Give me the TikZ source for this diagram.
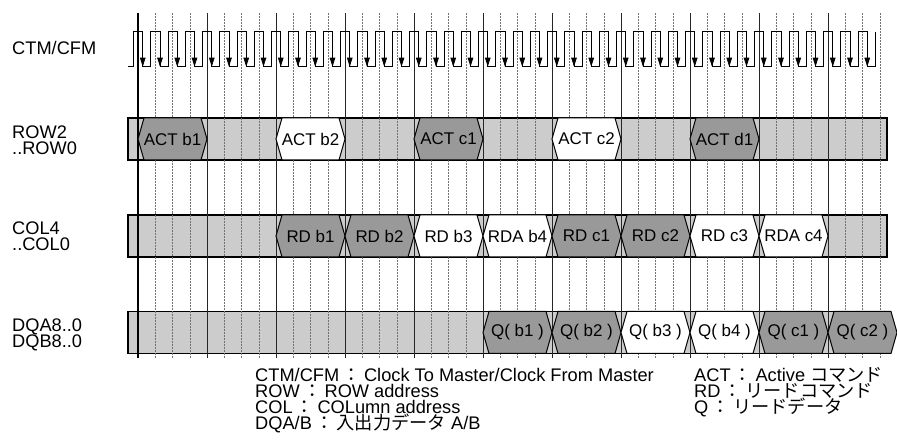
\documentclass[tikz,border=0pt]{standalone}
\usepackage{fontspec}
\setmainfont{Liberation Sans}
\newfontfamily\jpfont{Noto Sans CJK JP}
\usetikzlibrary{arrows.meta}
\definecolor{busgray}{gray}{0.8}
\definecolor{hexgray}{gray}{0.6}
\newcommand{\jcolon}{\hspace{3.3bp}{\jpfont ：}\hspace{3.3bp}}
\tikzstyle{bus} = [draw=black, fill=busgray, line width=1.2bp]
\tikzstyle{hexdark} = [draw=black, fill=hexgray, line width=1bp]
\tikzstyle{hexlight} = [draw=black, fill=white, line width=1bp]
\tikzstyle{major} = [draw=black!85, line width=0.8bp]
\tikzstyle{minor} = [draw=black!55, densely dotted, line width=0.5bp]
\tikzstyle{clkedge} = [line width=0.8bp, -{Triangle[width=5.5bp,length=9bp]}]
\tikzstyle{sig} = [anchor=base west, inner sep=0pt]
\tikzstyle{val} = [anchor=center, inner sep=0pt, font=\fontsize{17}{16}\selectfont]

\begin{document}
\begin{tikzpicture}[x=1bp, y=-1bp, font=\fontsize{18.3}{16}\selectfont]

			\useasboundingbox (0,0) rectangle (897,441);

			\draw[bus] (128,118) rectangle (887,160);
			\draw[bus] (128,215) rectangle (887,257);
			\draw[bus] (128,311.5) rectangle (887,353.5);

			\foreach \k in {0,...,43} {
				\pgfmathsetmacro\gx{138+17.25*\k}
				\pgfmathtruncatemacro\gm{mod(\k,4)}
				\ifnum\gm=0
					\draw[major] (\gx,13) -- (\gx,358);
				\else
					\draw[minor] (\gx,13) -- (\gx,358);
				\fi
			}
			\draw[line width=2.2bp] (138,13) -- (138,358);

			\foreach \s/\c/\t [count=\i] in {0/hexdark/ACT b1, 2/hexlight/ACT b2, 4/hexdark/ACT c1, 6/hexlight/ACT c2, 8/hexdark/ACT d1} {
				\draw[\c] ({138+69*\s},139) -- ++(6,-21) -- ++(57,0) -- ++(6,21) -- ++(-6,21) -- ++(-57,0) -- cycle;
				\node[val] (act\i) at ({172.5+69*\s},139) {\t};
			}

			\foreach \s/\c/\t [count=\i] in {2/hexdark/RD b1, 3/hexdark/RD b2, 4/hexlight/RD b3, 5/hexlight/RDA b4, 6/hexdark/RD c1, 7/hexdark/RD c2, 8/hexlight/RD c3, 9/hexlight/RDA c4} {
				\draw[\c] ({138+69*\s},236) -- ++(6,-21) -- ++(57,0) -- ++(6,21) -- ++(-6,21) -- ++(-57,0) -- cycle;
				\node[val] (rd\i) at ({172.5+69*\s},236) {\t};
			}

			\foreach \s/\c/\t [count=\i] in {5/hexdark/Q( b1 ), 6/hexdark/Q( b2 ), 7/hexlight/Q( b3 ), 8/hexlight/Q( b4 ), 9/hexdark/Q( c1 ), 10/hexdark/Q( c2 )} {
				\draw[\c] ({138+69*\s},332.5) -- ++(6,-21) -- ++(57,0) -- ++(6,21) -- ++(-6,21) -- ++(-57,0) -- cycle;
				\node[val] (q\i) at ({172.5+69*\s},332.5) {\t};
			}

			\draw[line width=0.8bp] (128,66.7) foreach \k in {0,...,42} { -- ({133.5+17.25*\k},66.7) -- ({133.5+17.25*\k},31.7) -- ({142.75+17.25*\k},31.7) -- ({142.75+17.25*\k},66.7) } -- (875,66.7) -- (875,31.7);
			\foreach \k in {0,...,42}
				\draw[clkedge] ({142.75+17.25*\k},31.7) -- ({142.75+17.25*\k},66.7);

			\node[sig] (clk) at (12,55) {CTM/CFM};
			\node[sig] (rowa) at (12,138.3) {ROW2};
			\node[sig] (rowb) at (12,155) {..ROW0};
			\node[sig] (cola) at (12,234.5) {COL4};
			\node[sig] (colb) at (12,251) {..COL0};
			\node[sig] (dqa) at (12,331.5) {DQA8..0};
			\node[sig] (dqb) at (12,348) {DQB8..0};

			\node[sig] (leg1) at (255,381.7) {CTM/CFM\jcolon Clock To Master/Clock From Master};
			\node[sig] (leg2) at (255,397.5) {ROW\jcolon ROW address};
			\node[sig] (leg3) at (255,413.3) {COL\jcolon COLumn address};
			\node[sig] (leg4) at (255,429) {DQA/B\jcolon{\jpfont 入出力データ} A/B};
			\node[sig] (leg5) at (694,381.7) {ACT\jcolon Active {\jpfont コマンド}};
			\node[sig] (leg6) at (694,397.5) {RD\jcolon{\jpfont リードコマンド}};
			\node[sig] (leg7) at (694,413.3) {Q\jcolon{\jpfont リードデータ}};

\end{tikzpicture}
\end{document}
